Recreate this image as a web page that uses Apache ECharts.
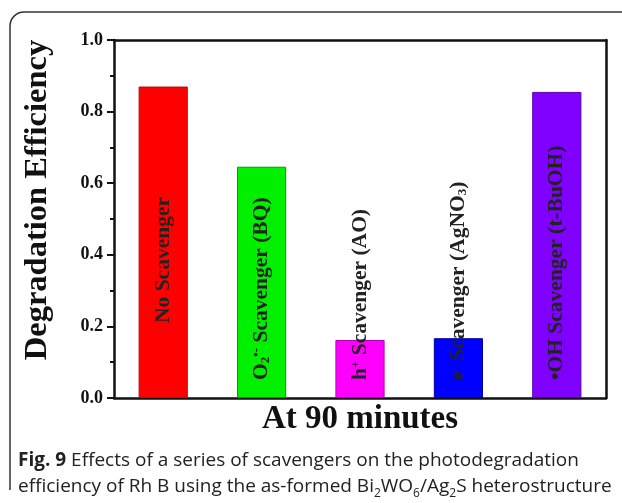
<!DOCTYPE html>
<html>
<head>
<meta charset="utf-8">
<script src="https://cdn.jsdelivr.net/npm/echarts@6/dist/echarts.min.js"></script>
<style>
  html, body { margin: 0; padding: 0; background: #fff; }
  #chart { width: 622px; height: 503px; }
</style>
</head>
<body>
<div id="chart"></div>
<script>
// scavenger experiments, degradation efficiency after 90 min
const categories = ['No Scavenger', 'O2•- Scavenger (BQ)', 'h+ Scavenger (AO)', 'e- Scavenger (AgNO3)', '•OH Scavenger (t-BuOH)'];
const barLabels = [
    'No Scavenger',
    'O{sub|2}{sup|•-} Scavenger (BQ)',
    'h{sup|+} Scavenger (AO)',
    'e{sup|-} Scavenger (AgNO{sub|3})',
    '•OH Scavenger (t-BuOH)'
];
const efficiency = [0.870, 0.646, 0.162, 0.167, 0.855];
const yTicks = [0, 0.2, 0.4, 0.6, 0.8, 1.0];

const barColors = ['#ff0000', '#00f000', '#ff00ff', '#0000ff', '#8000ff'];
const barBorders = ['#b01010', '#109010', '#b000b0', '#0000a0', '#5a00b0'];
const labelGaps = [75, 18, 18, 18, 18];

const serif = '"Liberation Serif", "Times New Roman", serif';
const sans = '"Open Sans", "Noto Sans", sans-serif';

const chart = echarts.init(document.getElementById('chart'));

const labelRich = {
    sub: { fontSize: 13, fontWeight: 'bold', fontFamily: serif, color: '#222', verticalAlign: 'bottom', lineHeight: 14 },
    sup: { fontSize: 13, fontWeight: 'bold', fontFamily: serif, color: '#222', verticalAlign: 'top', lineHeight: 14 }
};

const option = {
    backgroundColor: '#ffffff',
    animation: false,
    grid: { left: 114, right: 16, top: 40, bottom: 105 },
    xAxis: [{
        type: 'category',
        data: categories,
        name: 'At 90 minutes',
        nameLocation: 'middle',
        nameGap: 5,
        nameTextStyle: { fontFamily: serif, fontWeight: 'bold', fontSize: 33, color: '#111', verticalAlign: 'top' },
        axisLine: { lineStyle: { color: '#111', width: 2.5 } },
        axisTick: { show: false },
        axisLabel: { show: false }
    }, {
        type: 'category',
        position: 'top',
        data: categories,
        axisLine: { onZero: false, lineStyle: { color: '#111', width: 2.5 } },
        axisTick: { show: false },
        axisLabel: { show: false }
    }],
    yAxis: [{
        type: 'value',
        min: 0,
        max: 1,
        interval: 0.2,
        name: 'Degradation Efficiency',
        nameLocation: 'middle',
        nameGap: 60,
        nameTextStyle: { fontFamily: serif, fontWeight: 'bold', fontSize: 32.5, color: '#111', padding: [0, 0, 0, 38] },
        axisLine: { show: true, lineStyle: { color: '#111', width: 2.5 } },
        axisTick: { show: true, length: 7, lineStyle: { color: '#111', width: 2 } },
        minorTick: { show: true, splitNumber: 2, length: 4, lineStyle: { color: '#111', width: 2 } },
        splitLine: { show: false },
        axisLabel: {
            margin: 11,
            fontFamily: serif,
            fontWeight: 'bold',
            fontSize: 18,
            color: '#111',
            formatter: v => yTicks.some(t => Math.abs(t - v) < 1e-6) ? v.toFixed(1) : ''
        }
    }, {
        type: 'value',
        position: 'right',
        min: 0,
        max: 1,
        axisLine: { show: true, onZero: false, lineStyle: { color: '#111', width: 2.5 } },
        axisTick: { show: false },
        axisLabel: { show: false },
        splitLine: { show: false }
    }],
    series: [{
        type: 'bar',
        barWidth: '50%',
        data: efficiency.map((v, i) => ({
            value: v,
            itemStyle: { color: barColors[i], borderColor: barBorders[i], borderWidth: 1 },
            label: {
                show: true,
                position: 'insideBottom',
                distance: labelGaps[i],
                rotate: 90,
                align: 'left',
                verticalAlign: 'middle',
                formatter: barLabels[i],
                fontFamily: serif,
                fontWeight: 'bold',
                fontSize: 21.5,
                color: '#222',
                rich: labelRich
            }
        }))
    }],
    graphic: [
        // rounded frame around figure + caption
        { type: 'line', shape: { x1: 10, y1: 490, x2: 10, y2: 26 }, style: { stroke: '#333', lineWidth: 1.5 } },
        { type: 'arc', shape: { cx: 24, cy: 26, r: 14, startAngle: Math.PI, endAngle: Math.PI * 1.5 }, style: { stroke: '#333', lineWidth: 1.5, fill: null } },
        { type: 'line', shape: { x1: 24, y1: 12, x2: 640, y2: 12 }, style: { stroke: '#333', lineWidth: 1.5 } },
        {
            type: 'text',
            left: 18,
            top: 451,
            style: {
                text: '{b|Fig. 9} Effects of a series of scavengers on the photodegradation',
                font: '19px ' + sans,
                fill: '#222',
                rich: {
                    b: { font: 'bold 19px ' + sans, fill: '#222' }
                }
            }
        },
        {
            type: 'text',
            left: 18,
            top: 474,
            style: {
                text: 'efficiency of Rh B using the as-formed Bi{s|2}WO{s|6}/Ag{s|2}S heterostructure',
                font: '19px ' + sans,
                lineHeight: 26,
                fill: '#222',
                rich: {
                    s: { font: '12px ' + sans, fill: '#222', verticalAlign: 'bottom', lineHeight: 18 }
                }
            }
        }
    ]
};

chart.setOption(option);
</script>
</body>
</html>
